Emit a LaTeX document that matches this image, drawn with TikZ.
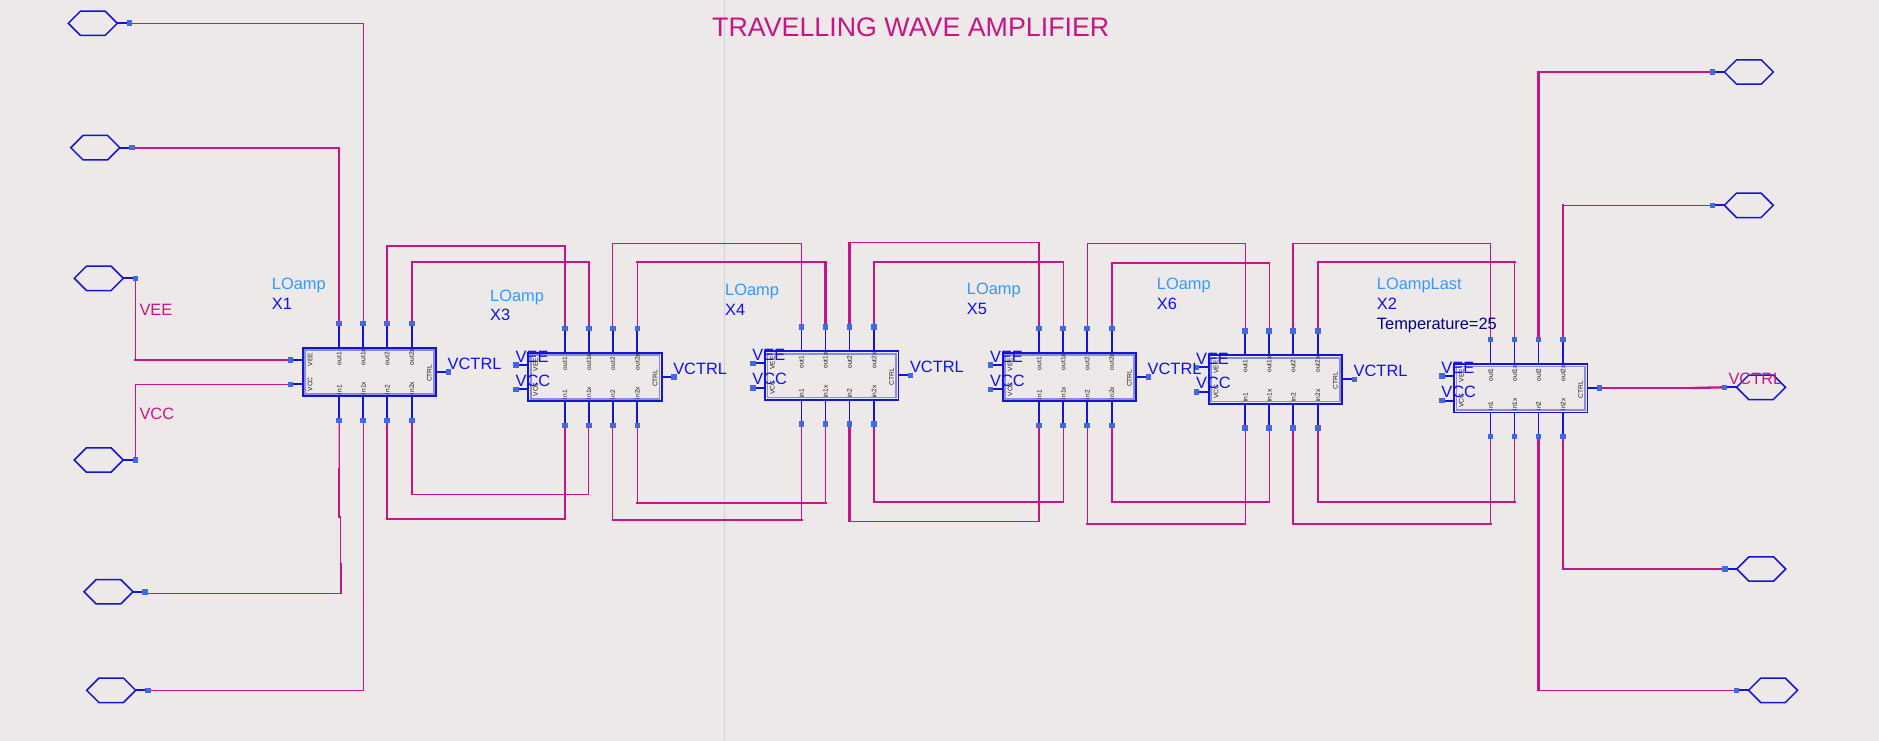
\documentclass[tikz,border=0pt]{standalone}
\usepackage{fontspec}
\usepackage{xcolor}
\setmainfont{Liberation Sans}
\usetikzlibrary{shapes.symbols,backgrounds}

\definecolor{sheetcol}{HTML}{EDE9E9}
\definecolor{wirecol}{HTML}{C71585}
\definecolor{symcol}{HTML}{1414D2}
\definecolor{symlight}{HTML}{8C8CDC}
\definecolor{pincol}{HTML}{4169E1}
\definecolor{typecol}{HTML}{3399FF}
\definecolor{namecol}{HTML}{1010F0}

\tikzset{
  wirethin/.style={draw=wirecol, line width=1.15pt, line cap=rect},
  wirethick/.style={draw=wirecol, line width=2.3pt, line cap=rect},
  stub/.style={draw=symcol, line width=1.8pt},
  lobox/.style={draw=symcol, line width=1.8pt, rectangle, inner sep=0pt, outer sep=0pt,
    minimum width=133.5pt, minimum height=48.5pt, anchor=north west},
  pinbox/.style={fill=pincol, rectangle, inner sep=0pt, outer sep=0pt, minimum size=5.6pt},
  port/.style={draw=symcol, line width=1.5pt, signal, signal to=east and west,
    signal pointer angle=90, minimum width=49pt, minimum height=24.4pt, inner sep=0pt, outer sep=0pt},
  pintext/.style={font=\fontsize{6.6}{7}\selectfont, text=black!90, rotate=90, inner sep=0pt},
  symtext/.style={font=\fontsize{16.4}{18}\selectfont, text=namecol, anchor=base west, inner sep=0pt},
  typetext/.style={symtext, text=typecol},
  nettext/.style={symtext, text=wirecol},
}

% one amplifier symbol: name, left edge, top edge
\newcommand{\loamp}[3]{
  \node[lobox] (#1) at (#2,#3) {};
  \foreach \p/\dx in {out1/36.5, out1x/60.5, out2/84.5, out2x/109} {
    \node[pinbox] (#1\p) at (#2+\dx,#3-24.4) {};
    \node[pintext, anchor=west] (#1\p t) at (#2+\dx,#3+17.5) {\p};
  }
  \foreach \p/\dx in {in1/36.5, in1x/60.5, in2/84.5, in2x/109} {
    \node[pinbox] (#1\p) at (#2+\dx,#3+72.6) {};
    \node[pintext, anchor=west] (#1\p t) at (#2+\dx,#3+46.5) {\p};
  }
  \node[pinbox] (#1VEE) at (#2-12.3,#3+12) {};
  \node[pinbox] (#1VCC) at (#2-12.3,#3+36.6) {};
  \node[pinbox] (#1CTRL) at (#2+145.6,#3+24) {};
  \node[pintext] (#1VEEt) at (#2+7.3,#3+11.7) {VEE};
  \node[pintext] (#1VCCt) at (#2+7.3,#3+36.6) {VCC};
  \node[pintext] (#1CTRLt) at (#2+126.7,#3+25.5) {CTRL};
}

% stubs and inner outline of one symbol
\newcommand{\lostubs}[1]{
  \draw[symlight, line width=1.6pt] ([shift={(2.4,2.4)}]#1.north west) rectangle ([shift={(-2.4,-2.4)}]#1.south east);
  \foreach \p in {out1,out1x,out2,out2x} { \draw[stub] (#1\p.center) -- (#1\p.center |- #1.north); }
  \foreach \p in {in1,in1x,in2,in2x} { \draw[stub] (#1\p.center) -- (#1\p.center |- #1.south); }
  \draw[stub] (#1VEE.center) -- (#1VEE.center -| #1.west);
  \draw[stub] (#1VCC.center) -- (#1VCC.center -| #1.west);
  \draw[stub] (#1CTRL.center) -- (#1CTRL.center -| #1.east);
}

% wire over or under two symbols: from, to, level, style of the three legs
\newcommand{\loopwire}[6]{
  \draw[#4] (#1.center) -- (#1 |- 0,#3);
  \draw[#5] (#1 |- 0,#3) -- (#2 |- 0,#3);
  \draw[#6] (#2 |- 0,#3) -- (#2.center);
}

\begin{document}
\begin{tikzpicture}[x=1pt, y=-1pt]
  \useasboundingbox (0,0) rectangle (1879,741);

  \loamp{X1}{302.7}{347.7}
  \loamp{X3}{528.3}{352.7}
  \loamp{X4}{765}{351.3}
  \loamp{X5}{1002.7}{352.7}
  \loamp{X6}{1208.7}{355.3}
  \loamp{X2}{1454}{364}

  % ports on the left
  \foreach \n/\px/\py/\gap in {A/92.8/23.3/12, B/95.3/147.7/12, C/98.8/278.3/12, D/98.8/460/12, E/108.5/591.7/12, F/111.2/690.3/12} {
    \node[port] (p\n) at (\px,\py) {};
    \node[pinbox] (p\n pin) at ([xshift=\gap pt]p\n.east) {};
  }
  % ports on the right
  \foreach \n/\px/\py/\gap in {G/1748.8/72/12, H/1748.8/205.3/12, K/1761/387.3/12, M/1761.2/569/12, N/1773/690.3/12} {
    \node[port] (p\n) at (\px,\py) {};
    \node[pinbox] (p\n pin) at ([xshift=-\gap pt]p\n.west) {};
  }

  \coordinate (jogA) at (341,593.3);
  \coordinate (jogB) at (341,564);
  \coordinate (jogC) at (340.3,564);
  \coordinate (jogD) at (340.3,517);
  \coordinate (jogE) at (339.3,517);
  \coordinate (jogF) at (339.3,469.3);
  \coordinate (ctrlJog) at (1692,387.3);

  % labels
  \node[font=\fontsize{26.8}{30}\selectfont, text=wirecol, anchor=base west, inner sep=0pt] (title) at (712,37) {TRAVELLING WAVE AMPLIFIER};
  \foreach \blk/\tp/\lx/\ly in {X1/LOamp/271.7/289.5, X3/LOamp/490/301, X4/LOamp/725/295.3, X5/LOamp/966.7/294.3, X6/LOamp/1156.7/289.3, X2/LOampLast/1376.7/289.3} {
    \node[typetext] (\blk type) at (\lx,\ly) {\tp};
    \node[symtext] (\blk name) at (\lx,\ly+19.7) {\blk};
  }
  \node[symtext, text=blue!50!black] (X2temp) at (1376.7,329) {Temperature=25};
  \foreach \blk in {X3,X4,X5,X6,X2} {
    \node[symtext] (\blk vee) at ([shift={(-12.8,9.3)}]\blk.north west) {VEE};
    \node[symtext] (\blk vcc) at ([shift={(-12.8,33.3)}]\blk.north west) {VCC};
  }
  \foreach \blk in {X1,X3,X4,X5,X6} {
    \node[symtext] (\blk vctrl) at ([shift={(144.8,21.6)}]\blk.north west) {VCTRL};
  }
  \node[nettext] (netVEE) at (139.3,315) {VEE};
  \node[nettext] (netVCC) at (139.3,419) {VCC};
  \node[nettext] (netCTRL) at (1728.3,384) {VCTRL};

  \begin{pgfonlayer}{background}
    \fill[sheetcol] (0,0) rectangle (1879,741);
    \draw[black!18, line width=1pt] (724.3,0) -- (724.3,741);

    % nets to the left ports
    \draw[wirethin] (pApin.center) -| (X1out1x.center);
    \draw[wirethick] (pBpin.center) -| (X1out1.center);
    \draw[wirethin] (pCpin.center) -- (pCpin |- X1VEE);
    \draw[wirethick] (pCpin |- X1VEE) -- (X1VEE.center);
    \draw[wirethin] (pDpin.center) |- (X1VCC.center);
    \draw[wirethin] (pEpin |- jogA) -- (jogA);
    \draw[wirethick] (jogA) -- (jogB);
    \draw[wirethin] (jogC) -- (jogD);
    \draw[wirethick] (jogE) -- (jogF);
    \draw[wirethin] (jogF) -- (X1in1.center);
    \draw[wirethin] (pFpin.center) -| (X1in1x.center);

    % X1 to X3
    \loopwire{X1out2}{X3out1}{245.7}{wirethick}{wirethick}{wirethick}
    \loopwire{X1out2x}{X3out1x}{262}{wirethick}{wirethick}{wirethick}
    \loopwire{X1in2}{X3in1}{518.7}{wirethick}{wirethick}{wirethick}
    \loopwire{X1in2x}{X3in1x}{494.3}{wirethick}{wirethin}{wirethin}
    % X3 to X4
    \loopwire{X3out2}{X4out1}{243.7}{wirethin}{wirethin}{wirethin}
    \loopwire{X3out2x}{X4out1x}{262}{wirethin}{wirethick}{wirethick}
    \loopwire{X3in2}{X4in1}{519.7}{wirethin}{wirethick}{wirethin}
    \loopwire{X3in2x}{X4in1x}{502.7}{wirethin}{wirethick}{wirethin}
    % X4 to X5
    \loopwire{X4out2}{X5out1}{242.7}{wirethick}{wirethin}{wirethick}
    \loopwire{X4out2x}{X5out1x}{262}{wirethick}{wirethick}{wirethin}
    \loopwire{X4in2}{X5in1}{521.3}{wirethick}{wirethin}{wirethick}
    \loopwire{X4in2x}{X5in1x}{501.7}{wirethick}{wirethick}{wirethin}
    % X5 to X6
    \loopwire{X5out2}{X6out1}{243.7}{wirethin}{wirethin}{wirethin}
    \loopwire{X5out2x}{X6out1x}{263}{wirethick}{wirethick}{wirethin}
    \loopwire{X5in2}{X6in1}{523.7}{wirethin}{wirethick}{wirethin}
    \loopwire{X5in2x}{X6in1x}{501.7}{wirethick}{wirethick}{wirethin}
    % X6 to X2
    \loopwire{X6out2}{X2out1}{243.7}{wirethick}{wirethin}{wirethin}
    \loopwire{X6out2x}{X2out1x}{262}{wirethick}{wirethick}{wirethin}
    \loopwire{X6in2}{X2in1}{523.7}{wirethick}{wirethick}{wirethin}
    \loopwire{X6in2x}{X2in1x}{501.7}{wirethick}{wirethick}{wirethin}

    % nets to the right ports
    \draw[wirethick] (X2out2.center) |- (pGpin.center);
    \draw[wirethick] (X2out2x.center) -- (X2out2x |- pHpin);
    \draw[wirethin] (X2out2x |- pHpin) -- (pHpin.center);
    \draw[wirethick] (X2in2.center) -- (X2in2 |- pNpin);
    \draw[wirethin] (X2in2 |- pNpin) -- (pNpin.center);
    \draw[wirethick] (X2in2x.center) |- (pMpin.center);
    \draw[wirethin] (X2CTRL.center) -- (X2CTRL -| ctrlJog);
    \draw[wirethick] (X2CTRL -| ctrlJog) -- (pKpin.center);

    \foreach \blk in {X1,X3,X4,X5,X6,X2} { \lostubs{\blk} }
    \foreach \n in {A,B,C,D,E,F} { \draw[stub] (p\n.east) -- (p\n pin.center); }
    \foreach \n in {G,H,K,M,N} { \draw[stub] (p\n.west) -- (p\n pin.center); }
  \end{pgfonlayer}
\end{tikzpicture}
\end{document}
